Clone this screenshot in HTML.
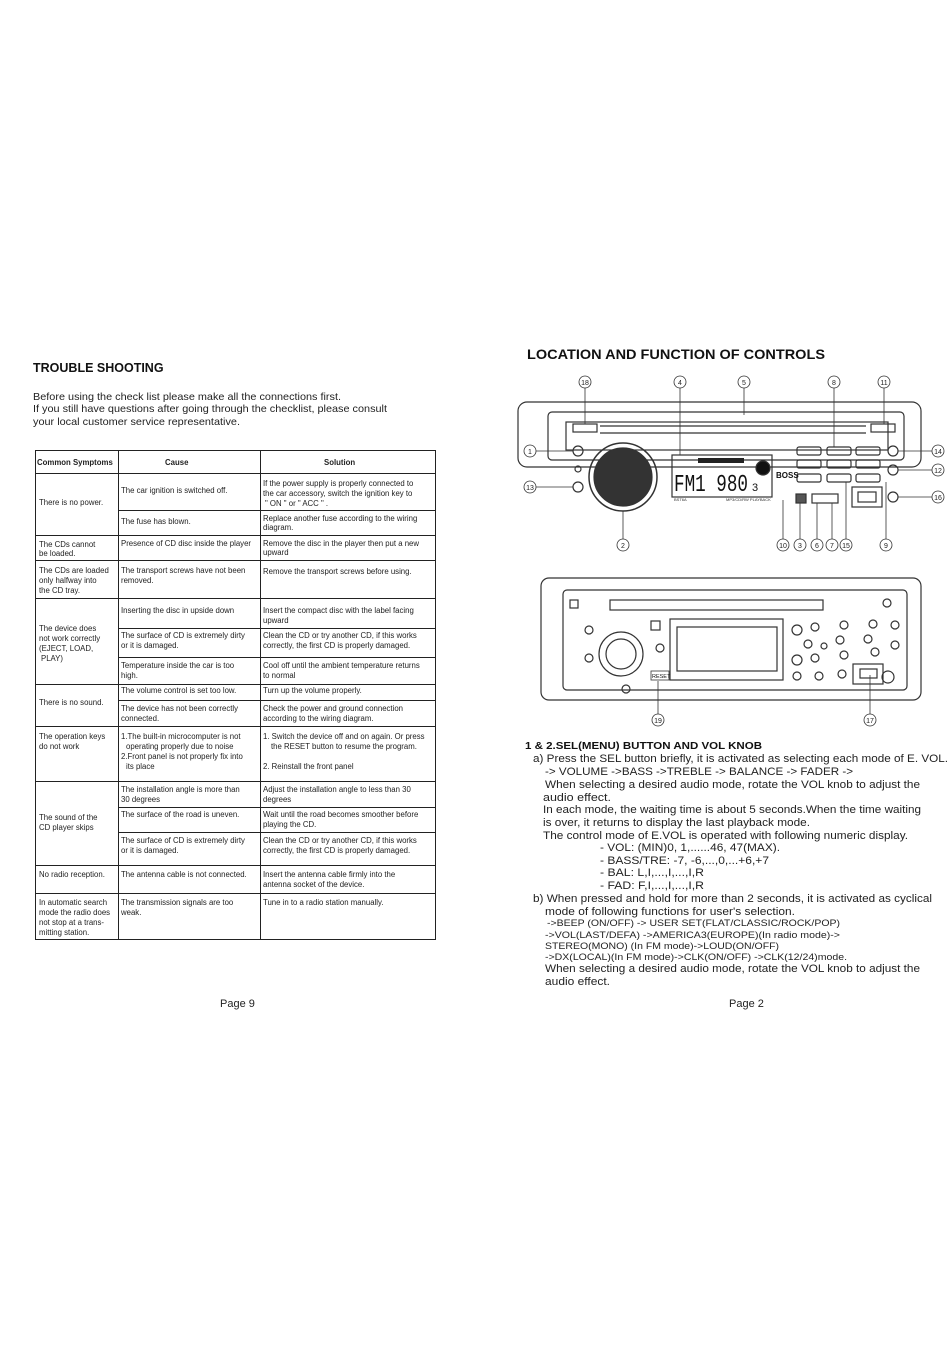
<!DOCTYPE html>
<html><head><meta charset="utf-8"><style>
html,body{margin:0;padding:0;background:#fff;}
svg{display:block;font-family:"Liberation Sans",Arial,sans-serif;}
.t{font-size:7.8px;fill:#222;}
.r{font-size:11px;fill:#222;}
.s{font-size:9.6px;fill:#222;}
.n{font-size:7px;fill:#222;text-anchor:middle;}
</style></head><body>
<svg width="950" height="1360" viewBox="0 0 950 1360" xmlns="http://www.w3.org/2000/svg">
<rect width="950" height="1360" fill="#fff"/>
<!-- LEFT PAGE -->
<text x="33" y="372" font-size="12.5" font-weight="bold" fill="#111">TROUBLE SHOOTING</text>
<text x="33" y="400" font-size="10.5" fill="#222" textLength="308" lengthAdjust="spacingAndGlyphs">Before using the check list please make all the connections first.</text>
<text x="33" y="412" font-size="10.5" fill="#222" textLength="354" lengthAdjust="spacingAndGlyphs">If you still have questions after going through the checklist, please consult</text>
<text x="33" y="425" font-size="10.5" fill="#222" textLength="207" lengthAdjust="spacingAndGlyphs">your local customer service representative.</text>

<g stroke="#222" stroke-width="1" fill="none">
<rect x="35.5" y="450.5" width="400" height="489"/>
<line x1="118.5" y1="450" x2="118.5" y2="940"/>
<line x1="260.5" y1="450" x2="260.5" y2="940"/>
<line x1="35" y1="473.5" x2="436" y2="473.5"/>
<line x1="118" y1="510.5" x2="436" y2="510.5"/>
<line x1="35" y1="535.5" x2="436" y2="535.5"/>
<line x1="35" y1="560.5" x2="436" y2="560.5"/>
<line x1="35" y1="598.5" x2="436" y2="598.5"/>
<line x1="118" y1="628.5" x2="436" y2="628.5"/>
<line x1="118" y1="657.5" x2="436" y2="657.5"/>
<line x1="35" y1="684.5" x2="436" y2="684.5"/>
<line x1="118" y1="700.5" x2="436" y2="700.5"/>
<line x1="35" y1="726.5" x2="436" y2="726.5"/>
<line x1="35" y1="781.5" x2="436" y2="781.5"/>
<line x1="118" y1="807.5" x2="436" y2="807.5"/>
<line x1="118" y1="832.5" x2="436" y2="832.5"/>
<line x1="35" y1="865.5" x2="436" y2="865.5"/>
<line x1="35" y1="893.5" x2="436" y2="893.5"/>
</g>
<g class="t">
<text x="37" y="465" font-weight="bold">Common Symptoms</text>
<text x="165" y="465" font-weight="bold">Cause</text>
<text x="324" y="465" font-weight="bold">Solution</text>
<text x="39" y="505">There is no power.</text>
<text x="121" y="493">The car ignition is switched off.</text>
<text x="263" y="486">If the power supply is properly connected to</text>
<text x="263" y="496">the car accessory, switch the ignition key to</text>
<text x="265" y="506">" ON "  or  " ACC  " .</text>
<text x="121" y="524">The fuse has blown.</text>
<text x="263" y="521">Replace another fuse according to the wiring</text>
<text x="263" y="530">diagram.</text>
<text x="39" y="547">The CDs cannot</text>
<text x="39" y="556">be loaded.</text>
<text x="121" y="546">Presence of CD disc inside the player</text>
<text x="263" y="546">Remove the disc in the player then put a new</text>
<text x="263" y="555">upward</text>
<text x="39" y="573">The CDs are loaded</text>
<text x="39" y="583">only halfway into</text>
<text x="39" y="593">the CD tray.</text>
<text x="121" y="573">The transport screws have not been</text>
<text x="121" y="583">removed.</text>
<text x="263" y="574">Remove the transport screws before using.</text>
<text x="121" y="613">Inserting the disc in upside down</text>
<text x="263" y="613">Insert the compact disc with the label facing</text>
<text x="263" y="623">upward</text>
<text x="39" y="631">The device does</text>
<text x="39" y="641">not work correctly</text>
<text x="39" y="651">(EJECT, LOAD,</text>
<text x="41" y="661"> PLAY)</text>
<text x="121" y="638">The surface of CD is extremely dirty</text>
<text x="121" y="648">or it is damaged.</text>
<text x="263" y="638">Clean the CD or try another CD, if this works</text>
<text x="263" y="648">correctly, the first CD is properly damaged.</text>
<text x="121" y="668">Temperature inside the car is too</text>
<text x="121" y="678">high.</text>
<text x="263" y="668">Cool off until the ambient temperature returns</text>
<text x="263" y="678">to normal</text>
<text x="39" y="705">There is no sound.</text>
<text x="121" y="693">The volume control is set too low.</text>
<text x="263" y="693">Turn up the volume properly.</text>
<text x="121" y="711">The device has not been correctly</text>
<text x="121" y="721">connected.</text>
<text x="263" y="711">Check the power and ground connection</text>
<text x="263" y="721">according to the wiring diagram.</text>
<text x="39" y="739">The operation keys</text>
<text x="39" y="749">do not work</text>
<text x="121" y="739">1.The built-in microcomputer is not</text>
<text x="126" y="749">operating properly due to noise</text>
<text x="121" y="759">2.Front panel is not properly fix into</text>
<text x="126" y="769">its place</text>
<text x="263" y="739">1. Switch the device off and on again. Or press</text>
<text x="271" y="749">the RESET button to resume the program.</text>
<text x="263" y="769">2. Reinstall the front panel</text>
<text x="121" y="792">The installation angle is more than</text>
<text x="121" y="802">30 degrees</text>
<text x="263" y="792">Adjust the installation angle to less than 30</text>
<text x="263" y="802">degrees</text>
<text x="39" y="820">The sound of the</text>
<text x="39" y="830">CD player skips</text>
<text x="121" y="817">The surface of the road is uneven.</text>
<text x="263" y="817">Wait until the road becomes smoother before</text>
<text x="263" y="827">playing the CD.</text>
<text x="121" y="843">The surface of CD is extremely dirty</text>
<text x="121" y="853">or it is damaged.</text>
<text x="263" y="843">Clean the CD or try another CD, if this works</text>
<text x="263" y="853">correctly, the first CD is properly damaged.</text>
<text x="39" y="877">No radio reception.</text>
<text x="121" y="877">The antenna cable is not connected.</text>
<text x="263" y="877">Insert the antenna cable firmly into the</text>
<text x="263" y="887">antenna socket of the device.</text>
<text x="39" y="905">In automatic search</text>
<text x="39" y="915">mode the radio does</text>
<text x="39" y="925">not stop at a trans-</text>
<text x="39" y="935">mitting station.</text>
<text x="121" y="905">The transmission signals are too</text>
<text x="121" y="915">weak.</text>
<text x="263" y="905">Tune in to a radio station manually.</text>
</g>
<text x="220" y="1007" font-size="11" fill="#222">Page 9</text>

<!-- RIGHT PAGE -->
<text x="527" y="359" font-size="14" font-weight="bold" fill="#111" textLength="298" lengthAdjust="spacingAndGlyphs">LOCATION AND FUNCTION OF CONTROLS</text>

<!-- device 1 -->
<g stroke="#333" fill="none" stroke-width="1.2">
<rect x="518" y="402" width="403" height="65" rx="9"/>
<rect x="548" y="412" width="356" height="48" rx="4"/>
<rect x="566" y="422" width="322" height="28"/>
<rect x="573" y="424" width="24" height="8"/>
<rect x="871" y="424" width="24" height="8"/>
<line x1="600" y1="426" x2="866" y2="426"/>
<line x1="600" y1="433" x2="866" y2="433"/>
<circle cx="578" cy="451" r="5"/>
<circle cx="578" cy="487" r="5"/>
<circle cx="578" cy="469" r="3"/>
<circle cx="623" cy="477" r="34" stroke-width="1.5"/>
<circle cx="623" cy="477" r="29" fill="#333"/>
<rect x="672" y="455" width="100" height="42"/>
<circle cx="763" cy="468" r="7" fill="#111"/>
<rect x="797" y="447" width="24" height="8" rx="2"/>
<rect x="827" y="447" width="24" height="8" rx="2"/>
<rect x="856" y="447" width="24" height="8" rx="2"/>
<rect x="797" y="460" width="24" height="8" rx="2"/>
<rect x="827" y="460" width="24" height="8" rx="2"/>
<rect x="856" y="460" width="24" height="8" rx="2"/>
<rect x="797" y="474" width="24" height="8" rx="2"/>
<rect x="827" y="474" width="24" height="8" rx="2"/>
<rect x="856" y="474" width="24" height="8" rx="2"/>
<rect x="812" y="494" width="26" height="9"/>
<rect x="796" y="494" width="10" height="9" fill="#555"/>
<rect x="852" y="487" width="30" height="20"/>
<rect x="858" y="492" width="18" height="10"/>
<circle cx="893" cy="451" r="5"/>
<circle cx="893" cy="470" r="5"/>
<circle cx="893" cy="497" r="5"/>
</g>
<rect x="698" y="458" width="46" height="5" fill="#222"/>
<text x="674" y="491" font-size="24" fill="#111" font-family="Liberation Mono,monospace" textLength="74" lengthAdjust="spacingAndGlyphs">FM1 980</text>
<text x="752" y="491" font-size="11" fill="#111">3</text>
<text x="776" y="478" font-size="8" font-weight="bold" fill="#111">BOSS</text>
<text x="674" y="501" font-size="4" fill="#333">BST6A</text>
<text x="726" y="501" font-size="4" fill="#333">MP3/CD/RW PLAYBACK</text>
<g stroke="#333" stroke-width="0.8">
<line x1="585" y1="388" x2="585" y2="424"/><line x1="680" y1="388" x2="680" y2="455"/>
<line x1="744" y1="388" x2="744" y2="415"/><line x1="834" y1="388" x2="834" y2="447"/>
<line x1="884" y1="388" x2="884" y2="424"/><line x1="536" y1="451" x2="573" y2="451"/>
<line x1="536" y1="487" x2="573" y2="487"/><line x1="898" y1="451" x2="932" y2="451"/>
<line x1="898" y1="470" x2="932" y2="470"/><line x1="898" y1="497" x2="932" y2="497"/>
<line x1="623" y1="511" x2="623" y2="539"/><line x1="783" y1="500" x2="783" y2="539"/>
<line x1="800" y1="503" x2="800" y2="539"/><line x1="817" y1="503" x2="817" y2="539"/>
<line x1="832" y1="503" x2="832" y2="539"/><line x1="846" y1="482" x2="846" y2="539"/>
<line x1="886" y1="482" x2="886" y2="539"/>
</g>
<g fill="#fff" stroke="#333" stroke-width="0.8">
<circle cx="585" cy="382" r="6"/><circle cx="680" cy="382" r="6"/><circle cx="744" cy="382" r="6"/>
<circle cx="834" cy="382" r="6"/><circle cx="884" cy="382" r="6"/>
<circle cx="530" cy="451" r="6"/><circle cx="530" cy="487" r="6"/>
<circle cx="938" cy="451" r="6"/><circle cx="938" cy="470" r="6"/><circle cx="938" cy="497" r="6"/>
<circle cx="623" cy="545" r="6"/><circle cx="783" cy="545" r="6"/><circle cx="800" cy="545" r="6"/>
<circle cx="817" cy="545" r="6"/><circle cx="832" cy="545" r="6"/><circle cx="846" cy="545" r="6"/>
<circle cx="886" cy="545" r="6"/>
<circle cx="658" cy="720" r="6"/><circle cx="870" cy="720" r="6"/>
</g>
<g class="n">
<text x="585" y="385">18</text><text x="680" y="385">4</text><text x="744" y="385">5</text>
<text x="834" y="385">8</text><text x="884" y="385">11</text>
<text x="530" y="454">1</text><text x="530" y="490">13</text>
<text x="938" y="454">14</text><text x="938" y="473">12</text><text x="938" y="500">16</text>
<text x="623" y="548">2</text><text x="783" y="548">10</text><text x="800" y="548">3</text>
<text x="817" y="548">6</text><text x="832" y="548">7</text><text x="846" y="548">15</text>
<text x="886" y="548">9</text><text x="658" y="723">19</text><text x="870" y="723">17</text>
</g>

<!-- device 2 -->
<g stroke="#333" fill="none" stroke-width="1.2">
<rect x="541" y="578" width="380" height="122" rx="8"/>
<rect x="563" y="590" width="344" height="100" rx="4"/>
<rect x="610" y="600" width="213" height="10"/>
<rect x="570" y="600" width="8" height="8"/>
<circle cx="621" cy="654" r="22"/>
<circle cx="621" cy="654" r="15"/>
<rect x="651" y="621" width="9" height="9"/>
<rect x="670" y="619" width="113" height="61"/>
<rect x="677" y="627" width="100" height="44"/>
<rect x="853" y="664" width="30" height="20"/>
<rect x="860" y="669" width="17" height="9"/>
<circle cx="888" cy="677" r="6"/>
<circle cx="660" cy="648" r="4"/>
<circle cx="589" cy="630" r="4"/><circle cx="589" cy="658" r="4"/><circle cx="626" cy="689" r="4"/>
<circle cx="797" cy="630" r="5"/><circle cx="815" cy="627" r="4"/><circle cx="844" cy="625" r="4"/>
<circle cx="873" cy="624" r="4"/><circle cx="895" cy="625" r="4"/><circle cx="887" cy="603" r="4"/>
<circle cx="808" cy="644" r="4"/><circle cx="824" cy="646" r="3"/><circle cx="840" cy="640" r="4"/>
<circle cx="868" cy="639" r="4"/><circle cx="895" cy="645" r="4"/><circle cx="875" cy="652" r="4"/>
<circle cx="797" cy="660" r="5"/><circle cx="815" cy="658" r="4"/><circle cx="844" cy="655" r="4"/>
<circle cx="797" cy="676" r="4"/><circle cx="819" cy="676" r="4"/><circle cx="842" cy="674" r="4"/>
</g>
<rect x="651" y="671" width="18" height="9" fill="none" stroke="#333" stroke-width="0.8"/>
<text x="652" y="678" font-size="5.5" fill="#111">RESET</text>
<line x1="658" y1="681" x2="658" y2="714" stroke="#333" stroke-width="0.8"/>
<line x1="870" y1="675" x2="870" y2="714" stroke="#333" stroke-width="0.8"/>

<text x="525" y="749" font-size="10.5" font-weight="bold" fill="#111" textLength="237" lengthAdjust="spacingAndGlyphs">1 &amp; 2.SEL(MENU) BUTTON AND VOL KNOB</text>
<g class="r">
<text x="533" y="762" textLength="415" lengthAdjust="spacingAndGlyphs">a) Press the SEL button briefly, it is activated as selecting each mode of E. VOL.</text>
<text x="545" y="775" textLength="308" lengthAdjust="spacingAndGlyphs">-&gt; VOLUME -&gt;BASS -&gt;TREBLE -&gt; BALANCE -&gt; FADER -&gt;</text>
<text x="545" y="788" textLength="375" lengthAdjust="spacingAndGlyphs">When selecting a desired audio mode, rotate the VOL knob to adjust the</text>
<text x="543" y="801" textLength="68" lengthAdjust="spacingAndGlyphs">audio effect.</text>
<text x="543" y="813" textLength="378" lengthAdjust="spacingAndGlyphs">In each mode, the waiting time is about 5 seconds.When the time waiting</text>
<text x="543" y="826" textLength="267" lengthAdjust="spacingAndGlyphs">is over, it returns to display the last playback mode.</text>
<text x="543" y="839" textLength="365" lengthAdjust="spacingAndGlyphs">The control mode of E.VOL is operated with following numeric display.</text>
<text x="600" y="851" textLength="180" lengthAdjust="spacingAndGlyphs">- VOL: (MIN)0, 1,......46, 47(MAX).</text>
<text x="600" y="864" textLength="169" lengthAdjust="spacingAndGlyphs">- BASS/TRE: -7, -6,...,0,...+6,+7</text>
<text x="600" y="876" textLength="104" lengthAdjust="spacingAndGlyphs">- BAL: L,I,...,I,...,I,R</text>
<text x="600" y="889" textLength="104" lengthAdjust="spacingAndGlyphs">- FAD: F,I,...,I,...,I,R</text>
<text x="533" y="902" textLength="399" lengthAdjust="spacingAndGlyphs">b) When pressed and hold for more than 2 seconds, it is activated as cyclical</text>
<text x="545" y="915" textLength="250" lengthAdjust="spacingAndGlyphs">mode of following functions for user's selection.</text>
<text x="545" y="972" textLength="375" lengthAdjust="spacingAndGlyphs">When selecting a desired audio mode, rotate the VOL knob to adjust the</text>
<text x="545" y="985" textLength="65" lengthAdjust="spacingAndGlyphs">audio effect.</text>
</g>
<g class="s">
<text x="547" y="926" textLength="293" lengthAdjust="spacingAndGlyphs">-&gt;BEEP (ON/OFF) -&gt; USER SET(FLAT/CLASSIC/ROCK/POP)</text>
<text x="545" y="938" textLength="295" lengthAdjust="spacingAndGlyphs">-&gt;VOL(LAST/DEFA) -&gt;AMERICA3(EUROPE)(In radio mode)-&gt;</text>
<text x="545" y="949" textLength="234" lengthAdjust="spacingAndGlyphs">STEREO(MONO) (In FM mode)-&gt;LOUD(ON/OFF)</text>
<text x="545" y="960" textLength="302" lengthAdjust="spacingAndGlyphs">-&gt;DX(LOCAL)(In FM mode)-&gt;CLK(ON/OFF) -&gt;CLK(12/24)mode.</text>
</g>
<text x="729" y="1007" font-size="11" fill="#222">Page 2</text>
</svg>
</body></html>
